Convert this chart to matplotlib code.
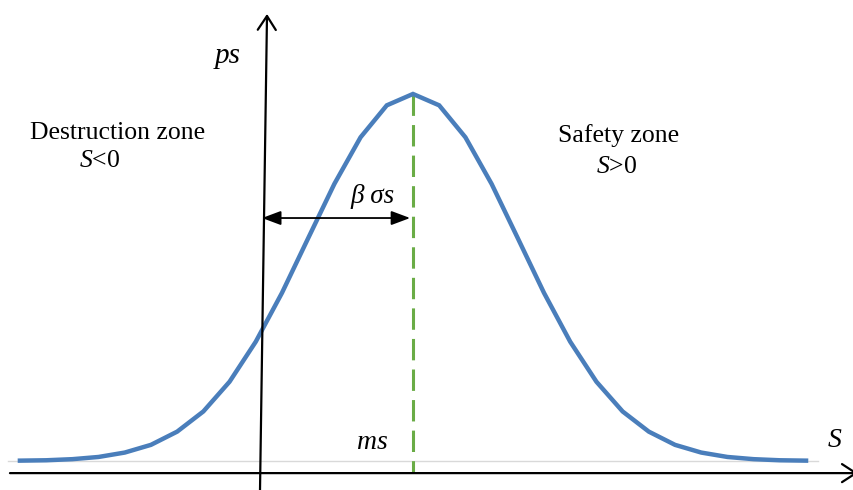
"""Normal distribution of the safety margin S — destruction / safety zones."""

import matplotlib
matplotlib.use("Agg")
import matplotlib.pyplot as plt

# category positions (in steps from the mean m_S) and curve heights (peak = 1)
s_steps = [-15, -14, -13, -12, -11, -10, -9, -8, -7, -6, -5, -4, -3, -2, -1, 0,
           1, 2, 3, 4, 5, 6, 7, 8, 9, 10, 11, 12, 13, 14, 15]
p_s = [0.001, 0.002, 0.005, 0.011, 0.023, 0.044, 0.080, 0.135, 0.216, 0.325,
       0.458, 0.607, 0.755, 0.882, 0.969, 1.000, 0.969, 0.882, 0.755, 0.607,
       0.458, 0.325, 0.216, 0.135, 0.080, 0.044, 0.023, 0.011, 0.005, 0.002,
       0.001]

BLUE = "#4a7ebb"
GREEN = "#6aac46"

plt.rcParams["font.family"] = ["Liberation Serif", "DejaVu Serif"]
plt.rcParams["mathtext.fontset"] = "custom"
plt.rcParams["mathtext.rm"] = "Liberation Serif"
plt.rcParams["mathtext.it"] = "Liberation Serif:italic"

fig = plt.figure(figsize=(8.54, 4.90), dpi=100)
ax = fig.add_axes([0, 0, 1, 1])
ax.set_axis_off()
ax.set_xlim(-15.76, 16.83)
ax.set_ylim(-0.079, 1.256)

# excel-like baseline + curve
ax.plot([-15.45, 15.45], [0, 0], color="#d9d9d9", lw=1.0, zorder=1)
ax.plot(s_steps, p_s, color=BLUE, lw=3.2, solid_joinstyle="miter", zorder=3)

# mean line
ax.plot([0, 0], [max(p_s), -0.033], color=GREEN, lw=2.2,
        dashes=(7, 3), zorder=2)

# axes with open arrow heads
axis_arrow = dict(arrowstyle="->, head_length=1.0, head_width=0.65",
                  lw=1.6, color="black", shrinkA=0, shrinkB=0,
                  mutation_scale=10)
ax.annotate("", xy=(-5.57, 1.218), xytext=(-5.84, -0.09),
            arrowprops=axis_arrow, annotation_clip=False)
ax.annotate("", xy=(16.98, -0.033), xytext=(-15.38, -0.033),
            arrowprops=axis_arrow, annotation_clip=False)

# beta * sigma span
ax.annotate("", xy=(-0.11, 0.662), xytext=(-5.76, 0.662),
            arrowprops=dict(arrowstyle="<|-|>, head_length=1.15, head_width=0.43",
                            lw=1.3, color="black", shrinkA=0, shrinkB=0,
                            mutation_scale=10))

ax.text(-7.06, 1.084, "ps", fontsize=21, style="italic", ha="center", va="baseline")
ax.text(-11.28, 0.877, "Destruction zone", fontsize=18.5, ha="center", va="baseline")
ax.text(-11.95, 0.801, r"$S$<0", fontsize=18.5, ha="center", va="baseline")
ax.text(7.86, 0.869, "Safety zone", fontsize=18.5, ha="center", va="baseline")
ax.text(7.79, 0.785, r"$S$>0", fontsize=18.5, ha="center", va="baseline")
ax.text(-1.56, 0.703, "β σs", fontsize=19.5, style="italic", ha="center", va="baseline")
ax.text(-1.56, 0.033, "ms", fontsize=20, style="italic", ha="center", va="baseline")
ax.text(16.1, 0.038, "S", fontsize=20, style="italic", ha="center", va="baseline")

fig.savefig("out.png", dpi=100)
